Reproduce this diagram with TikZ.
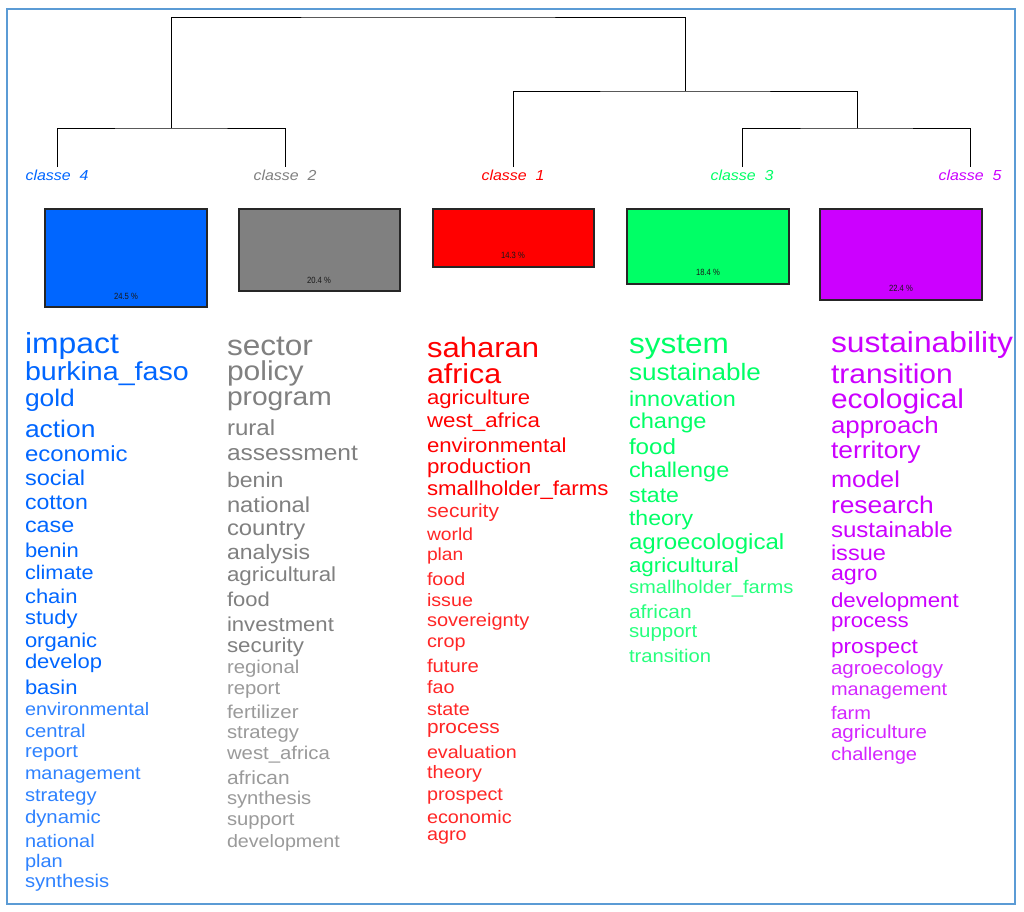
\documentclass[tikz,border=0pt]{standalone}
\usepackage{fontspec}
\setmainfont[FakeStretch=1.1]{Liberation Sans}
\newfontfamily\pctfont[FakeStretch=0.85]{Liberation Sans}
\definecolor{cblue}{HTML}{0066FF}
\definecolor{cgray}{HTML}{808080}
\definecolor{cred}{HTML}{FF0000}
\definecolor{cgreen}{HTML}{00FF66}
\definecolor{cpurple}{HTML}{CC00FF}
\definecolor{frameblue}{RGB}{91,155,213}
\colorlet{cblueb}{cblue!82!white}
\colorlet{cgrayb}{cgray!80!white}
\colorlet{credb}{cred!85!white}
\colorlet{cgreenb}{cgreen!85!white}
\colorlet{cpurpleb}{cpurple!85!white}
\tikzset{
  wordnode/.style={anchor=base west, inner sep=0pt, outer sep=0pt},
  dend/.style={draw=black, line width=1pt},
  clabel/.style={anchor=base, inner sep=0pt, font=\fontsize{14.5}{14.5}\selectfont\itshape},
  clbox/.style={draw=black!85, line width=1.1pt},
  pct/.style={inner sep=0pt, font=\pctfont\fontsize{9}{9}\selectfont, text=black!90}
}
\begin{document}
\begin{tikzpicture}[x=1pt,y=-1pt]
\useasboundingbox (0,0) rectangle (1024,911);
\fill[white] (0,0) rectangle (1024,911);
\draw[frameblue, line width=1.5pt] (7,9) rectangle (1015,904);

% class labels
\node[clabel, text=cblue]   (k4) at (57,180)  {classe\ \ 4};
\node[clabel, text=cgray]   (k2) at (285,180) {classe\ \ 2};
\node[clabel, text=cred]    (k1) at (513,180) {classe\ \ 1};
\node[clabel, text=cgreen]  (k3) at (742,180) {classe\ \ 3};
\node[clabel, text=cpurple] (k5) at (970,180) {classe\ \ 5};

% dendrogram
\coordinate (t4) at (57,167);
\coordinate (t2) at (285,167);
\coordinate (t1) at (513,167);
\coordinate (t3) at (742,167);
\coordinate (t5) at (970,167);
\draw[dend] (t4) |- (171,128) -| (t2);
\draw[dend] (t3) |- (857,128) -| (t5);
\draw[dend] (t1) |- (685,91) -| (857,128);
\draw[dend] (171,128) |- (428,17) -| (685,91);

% boxes
\draw[clbox, fill=cblue]   (45,209) rectangle (207,307);
\draw[clbox, fill=cgray]   (239,209) rectangle (400,291);
\draw[clbox, fill=cred]    (433,209) rectangle (594,267);
\draw[clbox, fill=cgreen]  (627,209) rectangle (789,284);
\draw[clbox, fill=cpurple] (820,209) rectangle (982,300);
\node[pct] (p4) at (126,296.5) {24.5 \%};
\node[pct] (p2) at (319,280.5) {20.4 \%};
\node[pct] (p1) at (513,255.5) {14.3 \%};
\node[pct] (p3) at (708,272.5) {18.4 \%};
\node[pct] (p5) at (901,288.5) {22.4 \%};

% column classe 4
\foreach \yy/\ss/\tt/\cc [count=\i] in {
353/29/impact/cblue, 380/26/burkina\_faso/cblue, 406/24/gold/cblue, 437/24/action/cblue,
461/21.8/economic/cblue, 485/21.4/social/cblue, 509/21/cotton/cblue, 532/21.2/case/cblue,
557/20/benin/cblue, 579/19.7/climate/cblue, 603/20/chain/cblue, 624/20/study/cblue,
647/20/organic/cblue, 668/20/develop/cblue, 694/20/basin/cblue,
715/18/environmental/cblueb, 737/18.4/central/cblueb, 757/18.5/report/cblueb,
779/18/management/cblueb, 801/18.3/strategy/cblueb, 823/18.5/dynamic/cblueb,
847/18.1/national/cblueb, 867/18.2/plan/cblueb, 887/18.4/synthesis/cblueb}
  \node[wordnode, text=\cc, font=\fontsize{\ss}{\ss}\selectfont] (wa\i) at (25,\yy) {\tt};

% column classe 2
\foreach \yy/\ss/\tt/\cc [count=\i] in {
355/28.7/sector/cgray, 380/27.3/policy/cgray, 405/25.6/program/cgray, 435/21.9/rural/cgray,
460/22.3/assessment/cgray, 487/21/benin/cgray, 512/21.6/national/cgray, 535/21.7/country/cgray,
559/20.9/analysis/cgray, 581/20.3/agricultural/cgray, 606/20/food/cgray, 631/20.1/investment/cgray,
652/20.3/security/cgray, 673/18.5/regional/cgrayb, 694/18.5/report/cgrayb, 718/18.6/fertilizer/cgrayb,
738/18.4/strategy/cgrayb, 759/18.5/west\_africa/cgrayb, 784/19/african/cgrayb,
804/18.4/synthesis/cgrayb, 825/18.4/support/cgrayb, 847/17.9/development/cgrayb}
  \node[wordnode, text=\cc, font=\fontsize{\ss}{\ss}\selectfont] (wb\i) at (227,\yy) {\tt};

% column classe 1
\foreach \yy/\ss/\tt/\cc [count=\i] in {
357/28.2/saharan/cred, 383.5/27.6/africa/cred, 404.5/20.1/agriculture/cred, 427/20.3/west\_africa/cred,
452/20.2/environmental/cred, 473/20.3/production/cred, 495/20.2/smallholder\_farms/cred,
517/19/security/credb, 540/17.5/world/credb, 560/17.5/plan/credb, 585/17.9/food/credb,
606/17.9/issue/credb, 626/18.2/sovereignty/credb, 647/18/crop/credb, 672/18.5/future/credb,
693/18/fao/credb, 715/18/state/credb, 733/18.9/process/credb, 758/17.9/evaluation/credb,
778/18/theory/credb, 800/18/prospect/credb, 823/18/economic/credb, 840/18/agro/credb}
  \node[wordnode, text=\cc, font=\fontsize{\ss}{\ss}\selectfont] (wc\i) at (427,\yy) {\tt};

% column classe 3
\foreach \yy/\ss/\tt/\cc [count=\i] in {
353/28.7/system/cgreen, 380/23.7/sustainable/cgreen, 406/21.3/innovation/cgreen, 428/21.5/change/cgreen,
454/22/food/cgreen, 477/21.3/challenge/cgreen, 502/21/state/cgreen, 525/21/theory/cgreen,
549/21.9/agroecological/cgreen, 572/20.4/agricultural/cgreen, 593/18.3/smallholder\_farms/cgreenb,
618/19/african/cgreenb, 637/18.6/support/cgreenb, 662/18.4/transition/cgreenb}
  \node[wordnode, text=\cc, font=\fontsize{\ss}{\ss}\selectfont] (wd\i) at (629,\yy) {\tt};

% column classe 5
\foreach \yy/\ss/\tt/\cc [count=\i] in {
352/28.9/sustainability/cpurple, 383/27.3/transition/cpurple, 408/27.2/ecological/cpurple,
433/23.5/approach/cpurple, 458/24/territory/cpurple, 487/23/model/cpurple, 513/24/research/cpurple,
537/21.9/sustainable/cpurple, 560/21.4/issue/cpurple, 580/21.2/agro/cpurple, 607/20.3/development/cpurple,
627/20.2/process/cpurple, 653/20.6/prospect/cpurple, 674/18.7/agroecology/cpurpleb,
695/18.1/management/cpurpleb, 719/18.2/farm/cpurpleb, 738/18.7/agriculture/cpurpleb,
760/18.3/challenge/cpurpleb}
  \node[wordnode, text=\cc, font=\fontsize{\ss}{\ss}\selectfont] (we\i) at (831,\yy) {\tt};
\end{tikzpicture}
\end{document}
